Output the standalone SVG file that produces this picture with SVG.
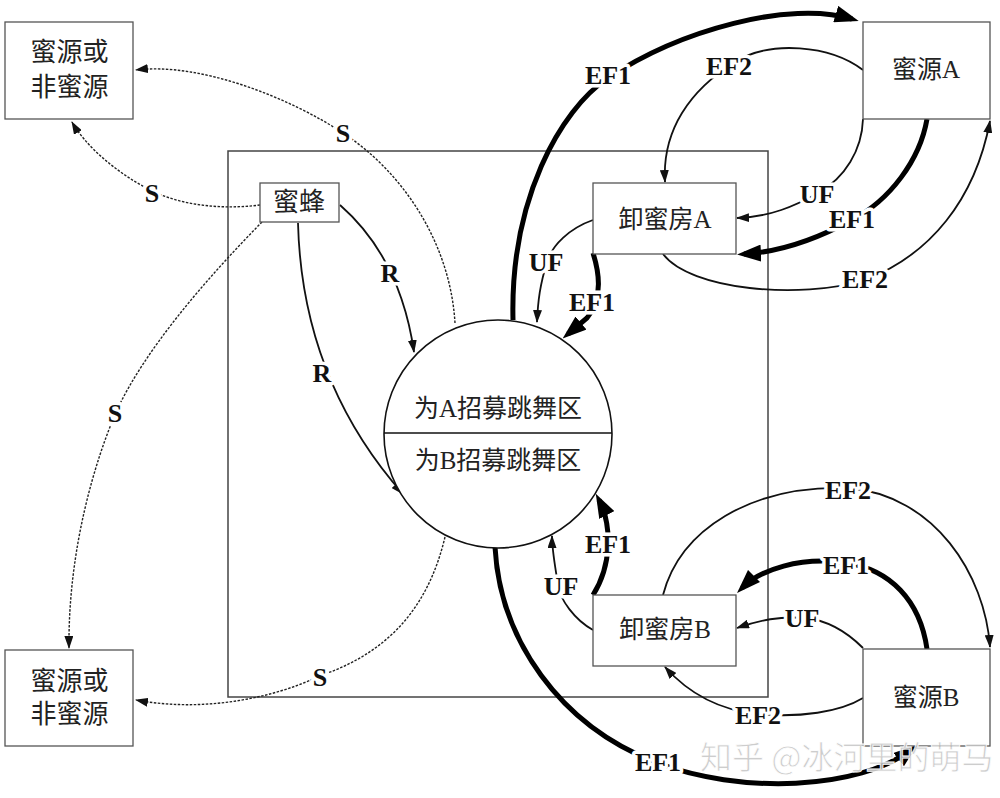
<svg xmlns="http://www.w3.org/2000/svg" width="1000" height="798" viewBox="0 0 1000 798">
<style>
.box{fill:#fff;stroke:#555;stroke-width:1.3}
.frame{fill:none;stroke:#444;stroke-width:1.5}
.nt{font-family:"Liberation Serif","Noto Sans CJK SC",serif;font-size:25px;fill:#222;text-anchor:middle}
.nt26{font-size:26px}
.lbl{font-family:"Liberation Serif",serif;font-weight:bold;font-size:26px;fill:#111;text-anchor:middle;paint-order:stroke;stroke:#fff;stroke-width:7px;stroke-linejoin:round}
.thin{fill:none;stroke:#111;stroke-width:1.8}
.thick{fill:none;stroke:#000;stroke-width:5}
.dot{fill:none;stroke:#222;stroke-width:1.4;stroke-dasharray:2.5 1.5}
.wm{font-family:"Noto Sans CJK SC",sans-serif;font-size:32px;fill:#c4c4c4;fill-opacity:0.85;stroke:#fff;stroke-width:0.8px}
</style>
<defs>
<marker id="ah" markerUnits="userSpaceOnUse" markerWidth="13" markerHeight="9" refX="12" refY="4.5" orient="auto"><path d="M0,0 L13,4.5 L0,9 z" fill="#111"/></marker>
<marker id="ahb" markerUnits="userSpaceOnUse" markerWidth="24" markerHeight="17" refX="17" refY="8.5" orient="auto"><path d="M0,0 L24,8.5 L0,17 z" fill="#000"/></marker>
</defs>
<rect width="1000" height="798" fill="#fff"/>
<rect class="frame" x="228" y="151" width="540" height="546"/>

<g id="connectors">
<path class="dot" d="M260,205 C220,210 180,205 150,190 C115,172 85,145 72,122" marker-end="url(#ah)"/>
<path class="dot" d="M455,323 C450,240 400,170 343,133 C290,98 200,62 136,70" marker-end="url(#ah)"/>
<path class="dot" d="M262,222 C205,280 145,350 117,410 C95,460 68,550 69,648" marker-end="url(#ah)"/>
<path class="dot" d="M445,537 C430,600 395,650 322,675 C270,700 200,712 136,700" marker-end="url(#ah)"/>
<path class="thin" d="M340,205 C380,240 405,290 414,352" marker-end="url(#ah)"/>
<path class="thin" d="M298,223 C300,300 320,400 403,494" marker-end="url(#ah)"/>
<path class="thick" d="M513,320 C510,200 560,110 608,78 C680,30 790,0 852,19" marker-end="url(#ahb)"/>
<path class="thin" d="M863,70 C830,45 770,40 735,62 C690,90 662,130 665,182" marker-end="url(#ah)"/>
<path class="thin" d="M863,119 C862,150 845,178 818,193 C795,206 770,217 737,218" marker-end="url(#ah)"/>
<path class="thick" d="M927,119 C920,160 890,200 852,220 C815,240 780,252 744,254" marker-end="url(#ahb)"/>
<path class="thin" d="M663,254 C690,290 800,300 865,280 C930,255 975,200 990,121" marker-end="url(#ah)"/>
<path class="thin" d="M593,220 C570,228 552,245 547,262 C540,285 538,300 537,322" marker-end="url(#ah)"/>
<path class="thick" d="M593,253 C600,275 602,300 587,318 L568,334" marker-end="url(#ahb)"/>
<path class="thick" d="M593,595 C612,565 612,525 599,500" marker-end="url(#ahb)"/>
<path class="thin" d="M593,630 C575,620 560,600 558,585 C555,565 552,550 552,536" marker-end="url(#ah)"/>
<path class="thick" d="M495,547 C500,640 560,725 655,762 C740,795 860,790 912,749" marker-end="url(#ahb)"/>
<path class="thin" d="M663,595 C680,530 750,485 848,488 C935,495 985,575 990,647" marker-end="url(#ah)"/>
<path class="thick" d="M927,649 C920,600 890,570 847,563 C800,556 760,570 742,588" marker-end="url(#ahb)"/>
<path class="thin" d="M863,648 C845,630 825,620 805,618 C780,616 760,620 737,628" marker-end="url(#ah)"/>
<path class="thin" d="M863,698 C840,712 800,718 757,714 C720,710 690,695 665,667" marker-end="url(#ah)"/>
</g>

<g id="labels">
<text class="lbl" x="152" y="202">S</text>
<text class="lbl" x="343" y="142">S</text>
<text class="lbl" x="115" y="422">S</text>
<text class="lbl" x="320" y="686">S</text>
<text class="lbl" x="390" y="282">R</text>
<text class="lbl" x="322" y="382">R</text>
<text class="lbl" x="608" y="84">EF1</text>
<text class="lbl" x="729" y="75">EF2</text>
<text class="lbl" x="817" y="203">UF</text>
<text class="lbl" x="852" y="228">EF1</text>
<text class="lbl" x="865" y="288">EF2</text>
<text class="lbl" x="546" y="271">UF</text>
<text class="lbl" x="592" y="311">EF1</text>
<text class="lbl" x="608" y="553">EF1</text>
<text class="lbl" x="561" y="595">UF</text>
<text class="lbl" x="658" y="771">EF1</text>
<text class="lbl" x="848" y="499">EF2</text>
<text class="lbl" x="846" y="574">EF1</text>
<text class="lbl" x="802" y="627">UF</text>
<text class="lbl" x="758" y="724">EF2</text>
</g>

<g id="src-top-left">
<rect class="box" x="5" y="22" width="128" height="97"/>
<text class="nt nt26" x="69.5" y="61">蜜源或</text>
<text class="nt nt26" x="69.5" y="96">非蜜源</text>
</g>
<g id="src-bottom-left">
<rect class="box" x="5" y="650" width="128" height="96"/>
<text class="nt nt26" x="69.5" y="690">蜜源或</text>
<text class="nt nt26" x="69.5" y="723">非蜜源</text>
</g>
<g id="bee">
<rect class="box" x="260" y="183" width="79" height="39"/>
<text class="nt nt26" x="299" y="211">蜜蜂</text>
</g>
<g id="dance-area">
<circle cx="498" cy="434" r="114" fill="#fff" stroke="#111" stroke-width="1.6"/>
<line x1="384" y1="433" x2="612" y2="433" stroke="#111" stroke-width="1.6"/>
<text class="nt" x="498" y="417">为A招募跳舞区</text>
<text class="nt" x="498" y="469">为B招募跳舞区</text>
</g>
<g id="src-A">
<rect class="box" x="863" y="22" width="127" height="97" stroke="#888"/>
<text class="nt" x="926" y="78">蜜源A</text>
</g>
<g id="unload-A">
<rect class="box" x="593" y="183" width="143" height="71"/>
<text class="nt" x="665" y="228">卸蜜房A</text>
</g>
<g id="unload-B">
<rect class="box" x="593" y="595" width="143" height="71"/>
<text class="nt" x="665" y="638">卸蜜房B</text>
</g>
<g id="src-B">
<rect class="box" x="863" y="649" width="127" height="97" stroke="#888"/>
<text class="nt" x="926" y="706">蜜源B</text>
</g>

<text class="wm" x="700" y="769">知乎 @冰河里的萌马</text>
</svg>
